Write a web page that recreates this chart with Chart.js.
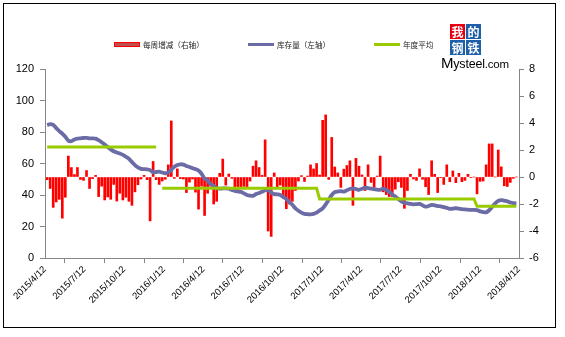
<!DOCTYPE html>
<html><head><meta charset="utf-8">
<script src="https://cdn.jsdelivr.net/npm/chart.js@4/dist/chart.umd.min.js"></script>
<style>
html,body{margin:0;padding:0;background:#fff;}
#wrap{position:relative;width:565px;height:337px;overflow:hidden;}
#frame{position:absolute;left:3px;top:3px;width:553px;height:325px;border:1px solid #000;box-sizing:border-box;}
canvas{position:absolute;left:0;top:0;}
.lt{position:absolute;top:40px;font-size:7.6px;line-height:9px;color:#222;font-family:"Noto Sans CJK SC",sans-serif;white-space:nowrap;}
.sw{position:absolute;}
.cell{position:absolute;width:15px;height:15px;color:#fff;font:bold 12px/15px "Noto Sans CJK SC",sans-serif;text-align:center;}
#mys{position:absolute;left:441px;top:55px;font-family:"Liberation Sans",Arial,sans-serif;color:#000;white-space:nowrap;line-height:16px;letter-spacing:-0.2px;}
</style></head>
<body>
<div id="wrap">
<canvas id="c" width="565" height="337"></canvas>
<div id="frame"></div>
<div class="sw" style="left:114px;top:42px;width:24px;height:3px;background:#c0504d;border:1px solid #ff0000;"></div>
<div class="lt" style="left:143px;">每周增减（右轴）</div>
<div class="sw" style="left:248px;top:43px;width:26px;height:3px;background:#6b6ba5;"></div>
<div class="lt" style="left:277px;">库存量（左轴）</div>
<div class="sw" style="left:374px;top:43px;width:26px;height:3px;background:#99cc00;"></div>
<div class="lt" style="left:403px;">年度平均</div>
<div class="cell" style="left:450px;top:24px;background:#e60012;">我</div>
<div class="cell" style="left:466px;top:24px;background:#1f5fa8;">的</div>
<div class="cell" style="left:450px;top:40px;background:#1f5fa8;">钢</div>
<div class="cell" style="left:466px;top:40px;background:#1f5fa8;">铁</div>
<div id="mys"><span style="font-size:15px;">M</span><span style="font-size:12.5px;">ysteel</span><span style="font-size:11.5px;">.com</span></div>
</div>
<script>
// ---- data ----
const firstWeek = '2015/4/17';            // weekly observations (Fridays)
const axisStart = '2015/4/12';
const tickLabels = ['2015/4/12','2015/7/12','2015/10/12','2016/1/12','2016/4/12','2016/7/12','2016/10/12','2017/1/12','2017/4/12','2017/7/12','2017/10/12','2018/1/12','2018/4/12'];

// weekly change (right axis)
const weeklyChange = [
 -0.2,-0.85,-2.25,-1.85,-1.65,-3.05,-1.5,1.55,0.7,0.18,
 0.7,-0.18,-0.25,0.48,-0.85,-0.12,0.12,-1.45,-0.68,-1.7,
 -1.48,-1.65,-0.55,-1.78,-1.2,-1.7,-1.5,-1.8,-2.1,-1.1,
 -0.57,-0.15,0.12,-0.2,-3.25,1.15,-0.2,-0.55,-0.3,-0.17,
 0.9,4.15,-0.1,0.6,-0.12,-0.15,-1.15,-0.38,-0.15,-1.12,
 -2.38,-0.68,-2.85,-1.2,-0.68,-2.0,-1.8,0.27,1.33,-0.6,
 0.22,-0.1,-1.07,-1.1,-0.8,-0.7,-0.85,-0.3,0.8,1.2,
 0.7,0.12,2.75,-4.0,-4.4,0.3,-0.8,-0.6,-1.4,-2.35,
 -2.0,-1.8,-1.0,-0.3,0.1,-0.33,0.07,0.9,0.6,1.0,
 0.15,4.2,4.6,-0.18,2.93,0.74,0.3,-0.77,0.58,0.85,
 1.2,-2.1,1.38,0.8,0.15,-1.0,0.9,-0.4,-0.77,0.07,
 1.55,-1.1,-1.3,-1.45,-1.45,-0.9,-0.35,-0.77,-2.32,-1.0,
 0.2,-0.15,-0.25,0.6,-0.17,-0.72,-1.3,1.2,0.2,-1.15,
 -0.05,-0.55,0.9,-0.35,0.45,-0.42,0.27,-0.35,-0.25,0.2,
 -0.05,0,-1.25,-0.32,-0.3,0.9,2.45,2.45,0,2.0,
 0.75,-0.65,-0.7,-0.4,-0.1,0
];

// inventory (left axis)
const inventory = [
 84.4,85,84.5,82.5,80.5,79,77,74.5,74.2,75.3,
 75.8,76,76.2,76.3,76,76,75.8,74.8,73.5,72,
 70.5,69,67.8,67,66.3,65.5,64.3,63,61,59,
 57.5,56.6,56.4,56.3,55.8,54.3,54.6,54.8,54.3,53.8,
 54.2,56,58,59,59.5,59.3,58.4,57.8,57,56.4,
 55.5,53.5,50.5,49.2,47,45.8,44.5,44,44.2,44.2,
 44,43.2,42.6,42.3,42,41,40,39.6,39.5,40.6,
 41.3,42,43,43.3,41.5,40.6,40.4,40,38.6,37.5,
 35.5,33.8,31.5,30,28.8,28,27.8,27.7,28,28.8,
 30.2,31.5,34,37,40,41.8,42.2,42.5,42.2,43,
 43.8,44.2,43.8,43.3,44,44.6,44.4,44,43.8,43.4,
 43.3,44,43.2,42,40.3,39,37.5,36,35,34.7,
 34.3,34.1,34.2,34.3,33.5,32.6,33,33.7,33.4,33,
 32.8,32.3,31.8,31.2,31.3,31.6,31.4,31,30.9,30.7,
 30.5,30.6,30.4,29.6,29.2,29,30.3,32.5,34.7,36.3,
 36.8,36.4,36,35.2,34.8,34.6
];

// annual average (left axis)
const avgValues = [70.4, 44.3, 37.5, 32.8];
const avgStart  = ['2015/4/17','2016/1/8','2017/1/6','2018/1/5'];
const avgEnd    = ['2015/12/25','2016/12/30','2017/12/29','2018/4/6'];

// ---- helpers ----
function dayNum(s){const p=s.split('/').map(Number);return Date.UTC(p[0],p[1]-1,p[2])/86400000;}
const d0 = dayNum(axisStart);
const dFirst = dayNum(firstWeek)-d0;
const weekX = weeklyChange.map((_,i)=>dFirst+7*i);
const tickX = tickLabels.map(t=>dayNum(t)-d0);

const barPts = weeklyChange.map((v,i)=>({x:weekX[i],y:v}));
const invPts = inventory.map((v,i)=>({x:weekX[i],y:v}));
const avgPts = weekX.map(x=>{
  let y=null;
  for(let j=0;j<avgValues.length;j++){
    if(x>=dayNum(avgStart[j])-d0 && x<=dayNum(avgEnd[j])-d0){y=avgValues[j];}
  }
  return {x:x,y:y};
});

const axisColor='#868686';
const tickFont={family:'"Liberation Sans", Arial, sans-serif',size:11};

new Chart(document.getElementById('c'),{
  data:{datasets:[
    {type:'line',label:'年度平均',data:avgPts,yAxisID:'yL',xAxisID:'x',borderColor:'#99cc00',borderWidth:3,pointRadius:0,tension:0,spanGaps:false,order:0},
    {type:'line',label:'库存量（左轴）',data:invPts,yAxisID:'yL',xAxisID:'x',borderColor:'#6b6ba5',borderWidth:3.8,pointRadius:0,tension:0.3,order:1},
    {type:'bar',label:'每周增减（右轴）',data:barPts,yAxisID:'yR',xAxisID:'x',backgroundColor:'#ff0000',barThickness:2,order:2}
  ]},
  options:{
    responsive:false,animation:false,
    layout:{padding:{top:69,left:0,right:0,bottom:0}},
    plugins:{legend:{display:false},tooltip:{enabled:false}},
    scales:{
      x:{type:'linear',position:'bottom',min:0,max:tickX[tickX.length-1],offset:false,
        afterBuildTicks:(s)=>{s.ticks=tickX.map(v=>({value:v}));},
        afterFit:(s)=>{s.height=79;},
        grid:{drawOnChartArea:false,drawTicks:true,tickLength:5,color:axisColor},
        border:{color:axisColor,width:1},
        ticks:{autoSkip:false,minRotation:45,maxRotation:45,padding:1,color:'#000',
          font:{family:'"Liberation Sans", Arial, sans-serif',size:9.5},
          callback:(v)=>{const i=tickX.indexOf(v);return i>=0?tickLabels[i]:'';}}
      },
      yL:{type:'linear',position:'left',min:0,max:120,
        afterFit:(s)=>{s.width=45;},
        grid:{drawOnChartArea:false,tickLength:5,color:axisColor},
        border:{color:axisColor},
        ticks:{stepSize:20,padding:6,color:'#000',font:tickFont}
      },
      yR:{type:'linear',position:'right',min:-6,max:8,
        afterFit:(s)=>{s.width=46;},
        grid:{drawOnChartArea:false,tickLength:5,color:axisColor},
        border:{color:axisColor},
        ticks:{stepSize:2,padding:5,color:'#000',font:tickFont}
      }
    }
  }
});
</script>
</body></html>
